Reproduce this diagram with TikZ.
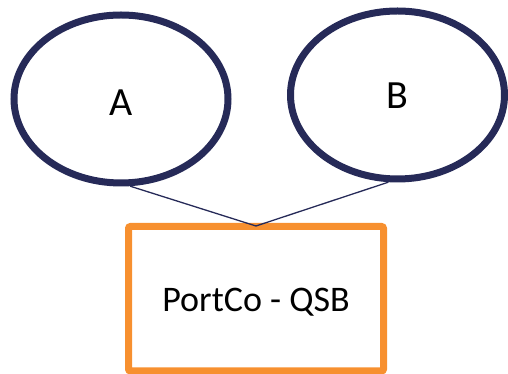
\documentclass[tikz,border=0pt]{standalone}
\usepackage{fontspec}
\setmainfont{Carlito}
\usetikzlibrary{shapes.geometric}
\definecolor{navy}{HTML}{262A58}
\definecolor{orng}{HTML}{F7902F}
\begin{document}
\begin{tikzpicture}[x=1pt,y=1pt,
  circ/.style={ellipse, draw=navy, line width=7pt, minimum width=214pt, minimum height=168pt, inner sep=0pt, font=\fontsize{40}{44}\selectfont},
  box/.style={rectangle, draw=orng, line width=7pt, rounded corners=2pt, minimum width=255pt, minimum height=144.5pt, font=\fontsize{36}{40}\selectfont},
  link/.style={draw=navy, line width=1.3pt}]
\useasboundingbox (0,0) rectangle (508,374);
\node[circ, text height=33pt, text depth=0pt] (A) at (121,275) {A};
\node[circ, text height=27pt, text depth=0pt] (B) at (397.5,279) {B};
\node[box, text height=30pt, text depth=5pt] (R) at (256,75.25) {PortCo - QSB};
\draw[link] (A.-84) -- ([yshift=-3pt]R.north) -- (B.-96);
\end{tikzpicture}
\end{document}
